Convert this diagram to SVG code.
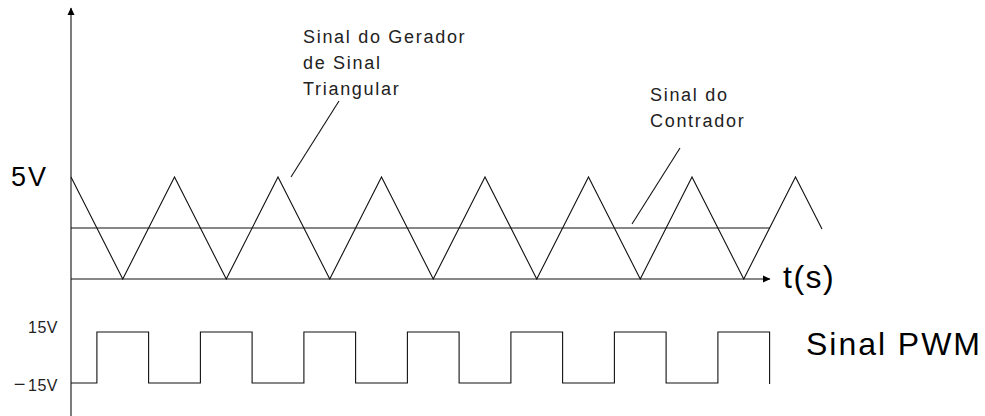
<svg xmlns="http://www.w3.org/2000/svg" width="985" height="416" viewBox="0 0 985 416">
<style>
.ln{fill:none;stroke:#111;stroke-width:1.1}
.t{font-family:"Liberation Sans",Arial,sans-serif;fill:#000}
.s{font-size:18px;letter-spacing:1.7px;fill:#222}
.v{font-size:16px;fill:#222;letter-spacing:0.5px}
</style>
<defs>
<marker id="ah" markerWidth="8" markerHeight="8" refX="7" refY="4" orient="auto" markerUnits="userSpaceOnUse">
<path d="M0,0.5 L7.5,4 L0,7.5 Z" fill="#000"/>
</marker>
</defs>
<rect width="985" height="416" fill="#fff"/>
<g id="axes">
<line class="ln" x1="71" y1="416" x2="71" y2="8" marker-end="url(#ah)"/>
<line class="ln" x1="71" y1="279" x2="770" y2="279" marker-end="url(#ah)"/>
</g>
<g id="triangular-signal">
<polyline class="ln" points="71,177 122.75,279 174.5,177 226.25,279 278,177 329.75,279 381.5,177 433.25,279 485,177 536.75,279 588.5,177 640.25,279 692,177 743.75,279 795.5,177 822,229"/>
</g>
<g id="controller-signal">
<line class="ln" x1="71" y1="228" x2="770" y2="228"/>
</g>
<g id="pwm-signal">
<polyline class="ln" points="71,383 96.9,383 96.9,332 148.6,332 148.6,383 200.4,383 200.4,332 252.1,332 252.1,383 303.9,383 303.9,332 355.6,332 355.6,383 407.4,383 407.4,332 459.1,332 459.1,383 510.9,383 510.9,332 562.6,332 562.6,383 614.4,383 614.4,332 666.1,332 666.1,383 717.9,383 717.9,332 769.6,332 769.6,384"/>
</g>
<g id="connectors">
<line class="ln" x1="291" y1="177" x2="339" y2="101"/>
<line class="ln" x1="632" y1="224" x2="680" y2="148"/>
</g>
<g id="label-triangular">
<text class="t s" x="303" y="43">Sinal do Gerador</text>
<text class="t s" x="303" y="69">de Sinal</text>
<text class="t s" x="303" y="95">Triangular</text>
</g>
<g id="label-controller">
<text class="t s" x="650" y="101">Sinal do</text>
<text class="t s" x="650" y="127">Contrador</text>
</g>
<g id="label-5v"><text class="t" x="11" y="186" font-size="27" letter-spacing="2">5V</text></g>
<g id="label-ts"><text class="t" x="783" y="288" font-size="32" letter-spacing="1.5">t(s)</text></g>
<g id="label-15v"><text class="t v" x="58" y="333" text-anchor="end">15V</text></g>
<g id="label-m15v"><text class="t v" x="58" y="391" text-anchor="end"><tspan font-size="20" dx="0">−</tspan><tspan dx="2">15V</tspan></text></g>
<g id="label-pwm"><text class="t" x="806" y="355" font-size="32" textLength="174" lengthAdjust="spacing">Sinal PWM</text></g>
</svg>
